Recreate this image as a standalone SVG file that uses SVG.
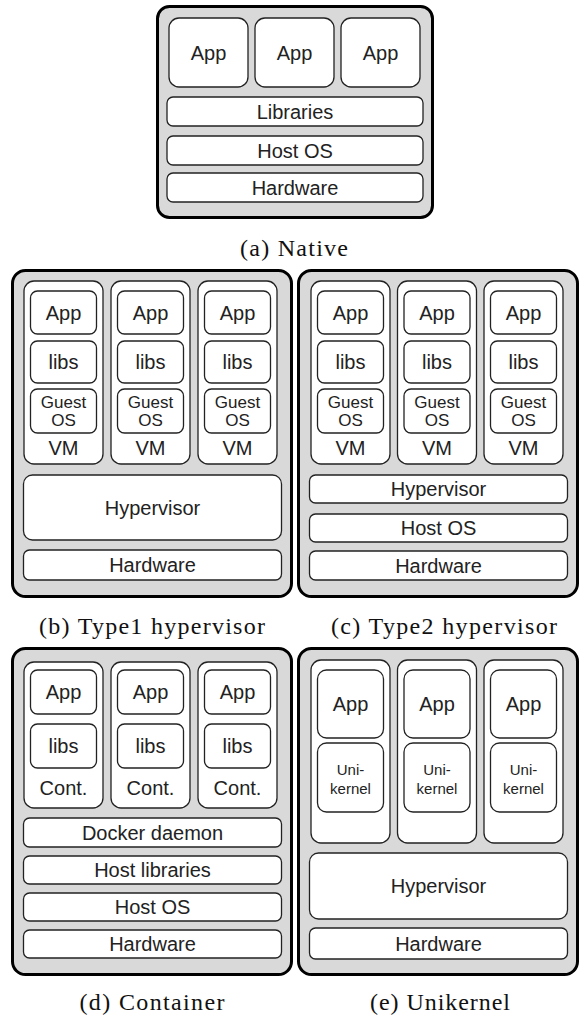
<svg xmlns="http://www.w3.org/2000/svg" width="582" height="1017" viewBox="0 0 582 1017">
<style>
.panel{fill:#d9d9d9;stroke:#000;stroke-width:3}
.box{fill:#fff;stroke:#222;stroke-width:1.3}
.t{font-family:"Liberation Sans",Arial,sans-serif;font-size:20px;fill:#222;text-anchor:middle}
.s{font-size:17px}
.u{font-size:15px}
.cap{font-family:"Liberation Serif","Times New Roman",serif;font-size:24px;fill:#111;text-anchor:middle}
</style>
<rect width="582" height="1017" fill="#fff"/>
<g id="connectors"/>

<!-- (a) Native -->
<g id="panel-a">
<rect class="panel" x="157.5" y="6.5" width="275" height="211" rx="12"/>
<g id="a-app1"><rect class="box" x="169" y="18" width="79" height="69" rx="10"/><text class="t" x="208.5" y="59.5">App</text></g>
<g id="a-app2"><rect class="box" x="255" y="18" width="79" height="69" rx="10"/><text class="t" x="294.5" y="59.5">App</text></g>
<g id="a-app3"><rect class="box" x="341" y="18" width="79" height="69" rx="10"/><text class="t" x="380.5" y="59.5">App</text></g>
<g id="a-libs"><rect class="box" x="167" y="97" width="256" height="29" rx="6"/><text class="t" x="295" y="118.5">Libraries</text></g>
<g id="a-hostos"><rect class="box" x="167" y="136" width="256" height="29" rx="6"/><text class="t" x="295" y="157.5">Host OS</text></g>
<g id="a-hw"><rect class="box" x="167" y="173" width="256" height="29" rx="6"/><text class="t" x="295" y="194.5">Hardware</text></g>
</g>
<text class="cap" x="294" y="256" textLength="108" lengthAdjust="spacing">(a) Native</text>

<!-- (b) Type1 hypervisor -->
<g id="panel-b">
<rect class="panel" x="12.5" y="270.5" width="279" height="326" rx="13"/>
<g id="b-vm1"><rect class="box" x="24" y="281" width="79" height="183" rx="10"/>
<rect class="box" x="30.5" y="291" width="66" height="43" rx="7"/><text class="t" x="63.5" y="319.5">App</text>
<rect class="box" x="30.5" y="341" width="66" height="42" rx="7"/><text class="t" x="63.5" y="369">libs</text>
<rect class="box" x="30.5" y="389" width="66" height="44" rx="7"/><text class="t s" x="63.5" y="408">Guest</text><text class="t s" x="63.5" y="426">OS</text>
<text class="t" x="63.5" y="455">VM</text></g>
<g id="b-vm2"><rect class="box" x="111" y="281" width="79" height="183" rx="10"/>
<rect class="box" x="117.5" y="291" width="66" height="43" rx="7"/><text class="t" x="150.5" y="319.5">App</text>
<rect class="box" x="117.5" y="341" width="66" height="42" rx="7"/><text class="t" x="150.5" y="369">libs</text>
<rect class="box" x="117.5" y="389" width="66" height="44" rx="7"/><text class="t s" x="150.5" y="408">Guest</text><text class="t s" x="150.5" y="426">OS</text>
<text class="t" x="150.5" y="455">VM</text></g>
<g id="b-vm3"><rect class="box" x="198" y="281" width="79" height="183" rx="10"/>
<rect class="box" x="204.5" y="291" width="66" height="43" rx="7"/><text class="t" x="237.5" y="319.5">App</text>
<rect class="box" x="204.5" y="341" width="66" height="42" rx="7"/><text class="t" x="237.5" y="369">libs</text>
<rect class="box" x="204.5" y="389" width="66" height="44" rx="7"/><text class="t s" x="237.5" y="408">Guest</text><text class="t s" x="237.5" y="426">OS</text>
<text class="t" x="237.5" y="455">VM</text></g>
<g id="b-hyp"><rect class="box" x="23.5" y="475" width="258" height="65" rx="9"/><text class="t" x="152.5" y="514.5">Hypervisor</text></g>
<g id="b-hw"><rect class="box" x="23.5" y="550" width="258" height="30" rx="6"/><text class="t" x="152.5" y="572">Hardware</text></g>
</g>
<text class="cap" x="152" y="634" textLength="226" lengthAdjust="spacing">(b) Type1 hypervisor</text>

<!-- (c) Type2 hypervisor -->
<g id="panel-c">
<rect class="panel" x="298.5" y="270.5" width="279" height="326" rx="13"/>
<g id="c-vm1"><rect class="box" x="311" y="281" width="79" height="183" rx="10"/>
<rect class="box" x="317.5" y="291" width="66" height="43" rx="7"/><text class="t" x="350.5" y="319.5">App</text>
<rect class="box" x="317.5" y="341" width="66" height="42" rx="7"/><text class="t" x="350.5" y="369">libs</text>
<rect class="box" x="317.5" y="389" width="66" height="44" rx="7"/><text class="t s" x="350.5" y="408">Guest</text><text class="t s" x="350.5" y="426">OS</text>
<text class="t" x="350.5" y="455">VM</text></g>
<g id="c-vm2"><rect class="box" x="397.5" y="281" width="79" height="183" rx="10"/>
<rect class="box" x="404" y="291" width="66" height="43" rx="7"/><text class="t" x="437" y="319.5">App</text>
<rect class="box" x="404" y="341" width="66" height="42" rx="7"/><text class="t" x="437" y="369">libs</text>
<rect class="box" x="404" y="389" width="66" height="44" rx="7"/><text class="t s" x="437" y="408">Guest</text><text class="t s" x="437" y="426">OS</text>
<text class="t" x="437" y="455">VM</text></g>
<g id="c-vm3"><rect class="box" x="484" y="281" width="79" height="183" rx="10"/>
<rect class="box" x="490.5" y="291" width="66" height="43" rx="7"/><text class="t" x="523.5" y="319.5">App</text>
<rect class="box" x="490.5" y="341" width="66" height="42" rx="7"/><text class="t" x="523.5" y="369">libs</text>
<rect class="box" x="490.5" y="389" width="66" height="44" rx="7"/><text class="t s" x="523.5" y="408">Guest</text><text class="t s" x="523.5" y="426">OS</text>
<text class="t" x="523.5" y="455">VM</text></g>
<g id="c-hyp"><rect class="box" x="309.5" y="475" width="258" height="28" rx="6"/><text class="t" x="438.5" y="496">Hypervisor</text></g>
<g id="c-hostos"><rect class="box" x="309.5" y="514" width="258" height="28" rx="6"/><text class="t" x="438.5" y="535">Host OS</text></g>
<g id="c-hw"><rect class="box" x="309.5" y="551" width="258" height="29" rx="6"/><text class="t" x="438.5" y="572.5">Hardware</text></g>
</g>
<text class="cap" x="444" y="634" textLength="226" lengthAdjust="spacing">(c) Type2 hypervisor</text>

<!-- (d) Container -->
<g id="panel-d">
<rect class="panel" x="12.5" y="648.5" width="279" height="326" rx="13"/>
<g id="d-cont1"><rect class="box" x="24" y="662" width="79" height="146" rx="10"/>
<rect class="box" x="30.5" y="670" width="66" height="44" rx="7"/><text class="t" x="63.5" y="699">App</text>
<rect class="box" x="30.5" y="724" width="66" height="44" rx="7"/><text class="t" x="63.5" y="753">libs</text>
<text class="t" x="63.5" y="795">Cont.</text></g>
<g id="d-cont2"><rect class="box" x="111" y="662" width="79" height="146" rx="10"/>
<rect class="box" x="117.5" y="670" width="66" height="44" rx="7"/><text class="t" x="150.5" y="699">App</text>
<rect class="box" x="117.5" y="724" width="66" height="44" rx="7"/><text class="t" x="150.5" y="753">libs</text>
<text class="t" x="150.5" y="795">Cont.</text></g>
<g id="d-cont3"><rect class="box" x="198" y="662" width="79" height="146" rx="10"/>
<rect class="box" x="204.5" y="670" width="66" height="44" rx="7"/><text class="t" x="237.5" y="699">App</text>
<rect class="box" x="204.5" y="724" width="66" height="44" rx="7"/><text class="t" x="237.5" y="753">libs</text>
<text class="t" x="237.5" y="795">Cont.</text></g>
<g id="d-docker"><rect class="box" x="23.5" y="818" width="258" height="29" rx="6"/><text class="t" x="152.5" y="839.5">Docker daemon</text></g>
<g id="d-hostlibs"><rect class="box" x="23.5" y="856" width="258" height="28" rx="6"/><text class="t" x="152.5" y="877">Host libraries</text></g>
<g id="d-hostos"><rect class="box" x="23.5" y="893" width="258" height="28" rx="6"/><text class="t" x="152.5" y="914">Host OS</text></g>
<g id="d-hw"><rect class="box" x="23.5" y="930" width="258" height="28" rx="6"/><text class="t" x="152.5" y="951">Hardware</text></g>
</g>
<text class="cap" x="152" y="1010" textLength="145" lengthAdjust="spacing">(d) Container</text>

<!-- (e) Unikernel -->
<g id="panel-e">
<rect class="panel" x="298.5" y="648.5" width="279" height="326" rx="13"/>
<g id="e-col1"><rect class="box" x="311" y="660" width="79" height="183" rx="10"/>
<rect class="box" x="317.5" y="670" width="66" height="68" rx="9"/><text class="t" x="350.5" y="711">App</text>
<rect class="box" x="317.5" y="743" width="66" height="69" rx="9"/><text class="t u" x="350.5" y="774.5">Uni-</text><text class="t u" x="350.5" y="793.5">kernel</text></g>
<g id="e-col2"><rect class="box" x="397.5" y="660" width="79" height="183" rx="10"/>
<rect class="box" x="404" y="670" width="66" height="68" rx="9"/><text class="t" x="437" y="711">App</text>
<rect class="box" x="404" y="743" width="66" height="69" rx="9"/><text class="t u" x="437" y="774.5">Uni-</text><text class="t u" x="437" y="793.5">kernel</text></g>
<g id="e-col3"><rect class="box" x="484" y="660" width="79" height="183" rx="10"/>
<rect class="box" x="490.5" y="670" width="66" height="68" rx="9"/><text class="t" x="523.5" y="711">App</text>
<rect class="box" x="490.5" y="743" width="66" height="69" rx="9"/><text class="t u" x="523.5" y="774.5">Uni-</text><text class="t u" x="523.5" y="793.5">kernel</text></g>
<g id="e-hyp"><rect class="box" x="309.5" y="853" width="258" height="66" rx="9"/><text class="t" x="438.5" y="893">Hypervisor</text></g>
<g id="e-hw"><rect class="box" x="309.5" y="928" width="258" height="31" rx="6"/><text class="t" x="438.5" y="950.5">Hardware</text></g>
</g>
<text class="cap" x="440" y="1010" textLength="140" lengthAdjust="spacing">(e) Unikernel</text>
</svg>
